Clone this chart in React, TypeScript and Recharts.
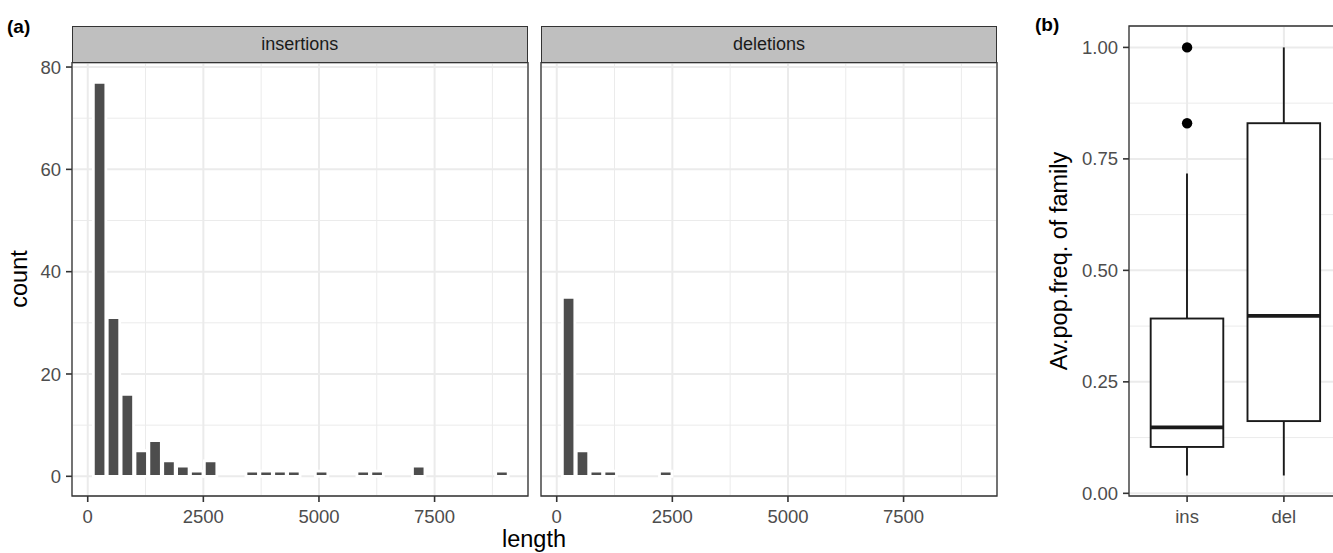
import React from 'react';
import { ComposedChart, Bar, Scatter, XAxis, YAxis, CartesianGrid, ReferenceArea } from 'recharts';

// histogram bins (centre of each 300-wide bin) and counts
const lengthTicks = [0, 2500, 5000, 7500];
const lengthMinor = [1250, 3750, 6250, 8750];
const countTicks = [0, 20, 40, 60, 80];
const countMinor = [10, 30, 50, 70];

const insLength = [250, 550, 850, 1150, 1450, 1750, 2050, 2350, 2650, 3550, 3850, 4150, 4450, 5050, 5950, 6250, 7150, 8950];
const insCount = [77, 31, 16, 5, 7, 3, 2, 1, 3, 1, 1, 1, 1, 1, 1, 1, 2, 1];
const delLength = [250, 550, 850, 1150, 2350];
const delCount = [35, 5, 1, 1, 1];

// boxplot stats, panel (b)
const boxGroups = ['ins', 'del'];
const boxMin = [0.04, 0.04];
const boxQ1 = [0.104, 0.162];
const boxMedian = [0.148, 0.398];
const boxQ3 = [0.392, 0.83];
const boxMax = [0.717, 1.0];
const outlierGroup = ['ins', 'ins'];
const outlierValue = [1.0, 0.83];
const freqTicks = [0, 0.25, 0.5, 0.75, 1];
const freqMinor = [0.125, 0.375, 0.625, 0.875];

const BINWIDTH = 300;
const LENGTH_DOMAIN: [number, number] = [-340, 9520];
const COUNT_DOMAIN: [number, number] = [-3.85, 80.85];
const FREQ_DOMAIN: [number, number] = [-0.006, 1.048];
const POS_DOMAIN: [number, number] = [0.4, 2.6];

const FONT = '"Liberation Sans", Arial, Helvetica, sans-serif';
const GRID = '#EBEBEB';
const BORDER = '#333333';
const TICK_TEXT = { fill: '#4d4d4d', fontSize: 18.5, fontFamily: FONT };
const TICK_LINE = { stroke: '#333333', strokeWidth: 1.6 };

const PANEL_W = 456;
const PANEL_TOP = 62.7;
const PANEL_BOTTOM = 496;
const H = 553;

// minor grid positions: use the axis scale when recharts hands it over, else map through the plot offset
const minorY = (vals: number[], dom: [number, number]) => (p: any) => {
  if (p?.yAxis && typeof p.yAxis.scale === 'function') return vals.map((v) => p.yAxis.scale(v));
  const o = p.offset;
  return vals.map((v) => o.top + ((dom[1] - v) / (dom[1] - dom[0])) * o.height);
};
const minorX = (vals: number[], dom: [number, number]) => (p: any) => {
  if (p?.xAxis && typeof p.xAxis.scale === 'function') return vals.map((v) => p.xAxis.scale(v));
  const o = p.offset;
  return vals.map((v) => o.left + ((v - dom[0]) / (dom[1] - dom[0])) * o.width);
};

function Strip({ left, label }: { left: number; label: string }) {
  return (
    <div
      style={{
        position: 'absolute',
        left,
        top: 26,
        width: PANEL_W,
        height: PANEL_TOP - 26,
        boxSizing: 'border-box',
        background: '#bfbfbf',
        border: `1.3px solid ${BORDER}`,
        color: '#1a1a1a',
        fontSize: 18,
        lineHeight: `${PANEL_TOP - 26 - 2.6}px`,
        textAlign: 'center',
      }}
    >
      {label}
    </div>
  );
}

function HistPanel({ lengths, counts, left, showY }: { lengths: number[]; counts: number[]; left: number; showY: boolean }) {
  const data = lengths.map((l, i) => ({ length: l, count: counts[i] }));
  const yW = showY ? 60 : 0;
  const chartLeft = left - yW - 10;
  const chartW = PANEL_W + yW + 20;
  const barPx = (PANEL_W * BINWIDTH) / (LENGTH_DOMAIN[1] - LENGTH_DOMAIN[0]);
  return (
    <div style={{ position: 'absolute', left: chartLeft, top: 0 }}>
      <ComposedChart
        width={chartW}
        height={H}
        data={data}
        margin={{ top: PANEL_TOP, right: 10, bottom: H - PANEL_BOTTOM - 30, left: 10 }}
      >
        <CartesianGrid
          stroke={GRID}
          strokeWidth={1}
          horizontalCoordinatesGenerator={minorY(countMinor, COUNT_DOMAIN)}
          verticalCoordinatesGenerator={minorX(lengthMinor, LENGTH_DOMAIN)}
        />
        <CartesianGrid stroke={GRID} strokeWidth={2} />
        <XAxis
          type="number"
          dataKey="length"
          domain={LENGTH_DOMAIN}
          ticks={lengthTicks}
          interval={0}
          allowDataOverflow
          height={30}
          axisLine={false}
          tickLine={TICK_LINE}
          tickSize={6}
          tickMargin={8}
          tick={TICK_TEXT}
        />
        <YAxis
          type="number"
          domain={COUNT_DOMAIN}
          ticks={countTicks}
          interval={0}
          allowDataOverflow
          hide={!showY}
          width={yW}
          axisLine={false}
          tickLine={TICK_LINE}
          tickSize={6}
          tickMargin={5}
          tick={TICK_TEXT}
        />
        <Bar dataKey="count" fill="#4d4d4d" stroke="#ffffff" strokeWidth={2.8} barSize={barPx} isAnimationActive={false} />
        <ReferenceArea
          x1={LENGTH_DOMAIN[0]}
          x2={LENGTH_DOMAIN[1]}
          y1={COUNT_DOMAIN[0]}
          y2={COUNT_DOMAIN[1]}
          fill="none"
          fillOpacity={0}
          stroke={BORDER}
          strokeWidth={1.3}
          ifOverflow="visible"
        />
      </ComposedChart>
    </div>
  );
}

const BoxShape = (props: any) => {
  const { x, y, width, height, payload } = props;
  const top = Math.min(y, y + height);
  const h = Math.abs(height);
  const span = payload.max - payload.min;
  const py = (v: number) => top + ((payload.max - v) / span) * h;
  const cx = x + width / 2;
  const c = '#1a1a1a';
  return (
    <g>
      <line x1={cx} x2={cx} y1={py(payload.max)} y2={py(payload.q3)} stroke={c} strokeWidth={1.9} />
      <line x1={cx} x2={cx} y1={py(payload.q1)} y2={py(payload.min)} stroke={c} strokeWidth={1.9} />
      <rect x={x} y={py(payload.q3)} width={width} height={py(payload.q1) - py(payload.q3)} fill="#ffffff" stroke={c} strokeWidth={1.9} />
      <line x1={x} x2={x + width} y1={py(payload.median)} y2={py(payload.median)} stroke={c} strokeWidth={3.8} />
    </g>
  );
};

function BoxPanel() {
  const data = boxGroups.map((g, i) => ({
    pos: i + 1,
    group: g,
    min: boxMin[i],
    q1: boxQ1[i],
    median: boxMedian[i],
    q3: boxQ3[i],
    max: boxMax[i],
    range: [boxMin[i], boxMax[i]],
  }));
  const outliers = outlierGroup.map((g, i) => ({ pos: boxGroups.indexOf(g) + 1, value: outlierValue[i] }));
  const plotLeft = 1129;
  const plotRight = 1342;
  const chartLeft = 1000;
  const chartW = 400;
  const boxPx = ((plotRight - plotLeft) * 0.75) / (POS_DOMAIN[1] - POS_DOMAIN[0]);
  return (
    <div style={{ position: 'absolute', left: chartLeft, top: 0 }}>
      <ComposedChart
        width={chartW}
        height={H}
        data={data}
        margin={{ top: 26, right: chartLeft + chartW - plotRight, bottom: H - PANEL_BOTTOM - 30, left: plotLeft - chartLeft - 60 }}
      >
        <CartesianGrid
          stroke={GRID}
          strokeWidth={1}
          vertical={false}
          horizontalCoordinatesGenerator={minorY(freqMinor, FREQ_DOMAIN)}
        />
        <CartesianGrid stroke={GRID} strokeWidth={2} />
        <XAxis
          type="number"
          dataKey="pos"
          domain={POS_DOMAIN}
          ticks={[1, 2]}
          interval={0}
          allowDataOverflow
          height={30}
          axisLine={false}
          tickLine={TICK_LINE}
          tickSize={6}
          tickMargin={8}
          tick={TICK_TEXT}
          tickFormatter={(v: number) => boxGroups[v - 1]}
        />
        <YAxis
          type="number"
          domain={FREQ_DOMAIN}
          ticks={freqTicks}
          interval={0}
          allowDataOverflow
          width={60}
          axisLine={false}
          tickLine={TICK_LINE}
          tickSize={6}
          tickMargin={5}
          tick={TICK_TEXT}
          tickFormatter={(v: number) => v.toFixed(2)}
        />
        <Bar dataKey="range" shape={BoxShape} barSize={boxPx} isAnimationActive={false} />
        <Scatter
          data={outliers}
          dataKey="value"
          isAnimationActive={false}
          shape={(p: any) => <circle cx={p.cx} cy={p.cy} r={5.2} fill="#000000" />}
        />
        <ReferenceArea
          x1={POS_DOMAIN[0]}
          x2={POS_DOMAIN[1]}
          y1={FREQ_DOMAIN[0]}
          y2={FREQ_DOMAIN[1]}
          fill="none"
          fillOpacity={0}
          stroke={BORDER}
          strokeWidth={1.3}
          ifOverflow="visible"
        />
      </ComposedChart>
    </div>
  );
}

export default function App() {
  return (
    <div
      style={{
        position: 'fixed',
        left: 0,
        top: 0,
        width: 1333,
        height: H,
        overflow: 'hidden',
        background: '#ffffff',
        fontFamily: FONT,
        color: '#000',
      }}
    >
      <HistPanel lengths={insLength} counts={insCount} left={71.7} showY />
      <HistPanel lengths={delLength} counts={delCount} left={541} showY={false} />
      <BoxPanel />
      <Strip left={71.7} label="insertions" />
      <Strip left={541} label="deletions" />
      <div style={{ position: 'absolute', left: 7, top: 17, fontSize: 19, fontWeight: 'bold', lineHeight: 1 }}>(a)</div>
      <div style={{ position: 'absolute', left: 1035, top: 15, fontSize: 19, fontWeight: 'bold', lineHeight: 1 }}>(b)</div>
      <div
        style={{ position: 'absolute', left: 534, top: 528, transform: 'translateX(-50%)', fontSize: 23.5, lineHeight: 1, whiteSpace: 'nowrap' }}
      >
        length
      </div>
      <div
        style={{
          position: 'absolute',
          left: 20,
          top: 279,
          transform: 'translate(-50%, -50%) rotate(-90deg)',
          fontSize: 23.5,
          lineHeight: 1,
          whiteSpace: 'nowrap',
        }}
      >
        count
      </div>
      <div
        style={{
          position: 'absolute',
          left: 1060,
          top: 261,
          transform: 'translate(-50%, -50%) rotate(-90deg)',
          fontSize: 23.5,
          lineHeight: 1,
          whiteSpace: 'nowrap',
        }}
      >
        Av.pop.freq. of family
      </div>
    </div>
  );
}
